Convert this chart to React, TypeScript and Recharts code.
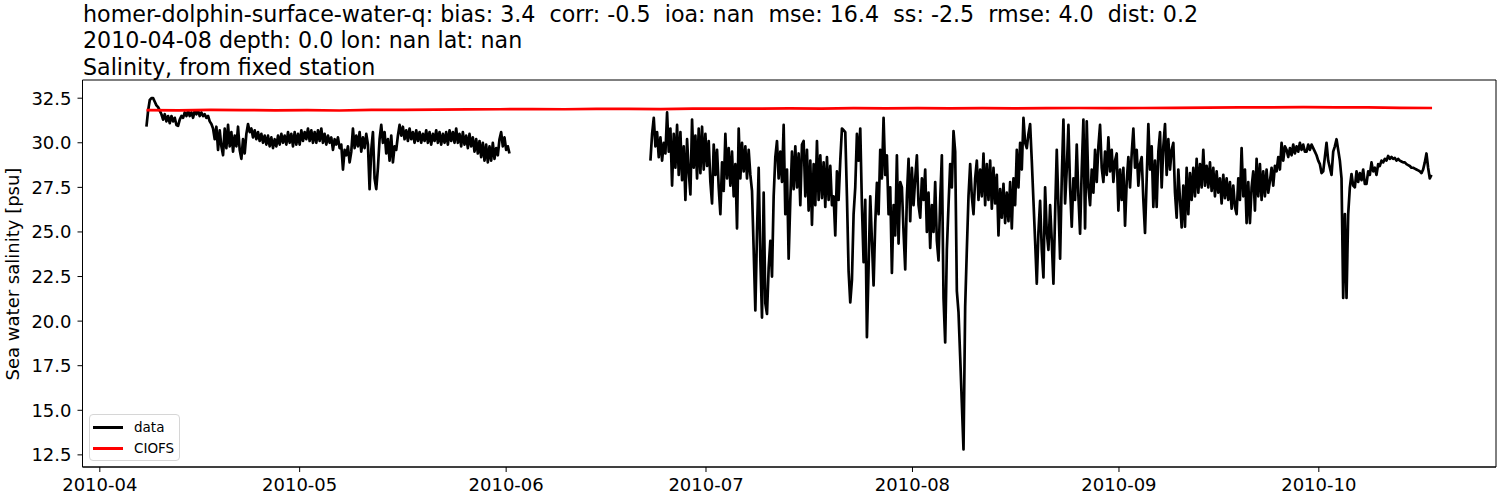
import React from 'react';
import { LineChart, Line, XAxis, YAxis, ReferenceArea, Legend } from 'recharts';

// days are counted from 2010-04-01
const monthTicks = [0, 30, 61, 91, 122, 153, 183];
const monthLabels = ['2010-04', '2010-05', '2010-06', '2010-07', '2010-08', '2010-09', '2010-10'];
const salinityTicks = [12.5, 15, 17.5, 20, 22.5, 25, 27.5, 30, 32.5];
const legendOrder = ['data', 'CIOFS'];

const titleLines = [
  'homer-dolphin-surface-water-q: bias: 3.4  corr: -0.5  ioa: nan  mse: 16.4  ss: -2.5  rmse: 4.0  dist: 0.2',
  '2010-04-08 depth: 0.0 lon: nan lat: nan',
  'Salinity, from fixed station',
];

// observed data, first deployment (start day, step in days, values)
const dataPart1Start = 7.0;
const dataPart1Step = 0.25;
const dataPart1 = [
  30.9, 31.8, 32.4, 32.5, 32.5, 32.3, 32.1, 32.0,
  31.8, 31.6, 31.3, 31.6, 31.2, 31.5, 31.1, 31.5,
  31.2, 31.4, 31.0, 30.95, 31.3, 31.5, 31.4, 31.7,
  31.5, 31.8, 31.5, 31.7, 31.4, 31.8, 31.6, 31.8,
  31.5, 31.7, 31.5, 31.6, 31.4, 31.5, 31.2, 31.05,
  30.8, 30.2, 30.9, 29.6, 30.7, 29.8, 29.3, 30.8,
  29.7, 31.0, 29.8, 30.6, 29.5, 30.4, 29.8, 30.9,
  29.6, 29.1, 30.2, 29.4, 30.5, 31.05, 30.6, 30.8,
  30.3, 30.7, 30.2, 30.6, 30.1, 30.5, 30.0, 30.4,
  29.9, 30.4, 29.8, 30.3, 29.7, 30.2, 29.8, 30.4,
  29.9, 30.5, 30.0, 30.4, 29.9, 30.6, 30.0, 30.5,
  29.8, 30.6, 29.9, 30.5, 29.9, 30.7, 30.1, 30.6,
  30.2, 30.8, 30.1, 30.7, 30.0, 30.6, 30.0, 30.7,
  30.1, 30.8, 30.0, 30.5, 29.9, 30.4, 30.0, 30.3,
  29.6, 30.2, 29.9, 30.3, 29.7, 29.9, 28.5, 29.6,
  29.3, 29.8, 28.9, 29.5, 30.8, 29.7, 30.4, 29.8,
  30.6, 29.5, 30.3, 29.7, 30.5, 29.9, 27.4, 29.6,
  30.6, 28.0, 27.4, 28.6, 30.2, 31.0, 30.0, 30.6,
  29.4, 30.2, 29.0, 30.4, 28.9, 29.8, 29.6, 30.4,
  31.0, 30.4, 30.9, 30.2, 30.7, 30.1, 30.8, 30.2,
  30.6, 30.0, 30.7, 30.1, 30.6, 30.0, 30.5, 30.1,
  30.7, 30.0, 30.6, 29.9, 30.5, 30.1, 30.7, 30.0,
  30.6, 29.9, 30.5, 30.0, 30.6, 29.9, 30.7, 30.1,
  30.6, 30.0, 30.8, 30.0, 30.5, 29.8, 30.6, 29.9,
  30.4, 29.7, 30.5, 29.8, 30.3, 29.5, 30.2, 29.4,
  30.1, 29.2, 30.0, 29.0, 29.9, 28.9, 29.8, 29.0,
  30.0, 29.1, 29.7, 29.3, 30.2, 30.6, 29.8, 30.3,
  29.6, 29.8, 29.4,
];

// observed data, second deployment
const dataPart2Start = 82.66;
const dataPart2Step = 0.25;
const dataPart2 = [
  29.0, 30.5, 31.4, 29.8, 30.6, 29.2, 30.3, 29.0,
  30.0, 29.4, 31.7, 29.5, 30.8, 27.6, 30.5, 28.6,
  31.0, 28.2, 30.6, 27.9, 29.8, 26.8, 30.2, 28.4,
  27.1, 31.3, 28.6, 30.4, 28.0, 30.8, 28.3, 30.9,
  28.5, 30.5, 28.7, 30.1, 27.8, 26.6, 29.9, 28.2,
  29.6, 27.5, 26.0, 28.9, 27.3, 30.5, 28.0, 29.7,
  27.6, 29.5, 27.0, 28.8, 25.2, 30.8, 28.0, 30.0,
  28.4, 29.8, 28.0, 29.6, 28.2, 27.3, 24.0, 20.6,
  25.0, 28.6, 23.5, 20.2, 27.2, 21.0, 20.4, 23.0,
  24.5, 22.5, 27.0, 29.2, 30.1, 28.0, 29.5, 27.8,
  31.0, 26.0, 28.5, 23.5, 26.8, 29.5, 27.4, 29.8,
  27.5, 29.4, 26.5, 29.9, 30.1, 27.0, 29.6, 26.2,
  29.0, 25.4, 28.8, 26.5, 30.1, 26.8, 29.3, 26.9,
  28.9, 26.4, 29.2, 26.8, 28.7, 26.5, 27.0, 24.8,
  28.4, 26.8, 29.0, 30.8, 30.7, 30.6, 27.0, 22.8,
  21.05, 22.3, 26.0, 27.5, 30.5, 29.0, 30.8, 26.5,
  23.3, 26.8, 19.1, 23.0, 27.0, 24.5, 22.0, 25.5,
  27.75, 26.0, 29.6, 28.0, 31.4, 28.2, 29.3, 26.0,
  27.5, 22.7, 26.5, 24.8, 29.3, 24.35, 27.8, 27.5,
  25.0, 22.9, 27.0, 29.1, 25.6, 28.6, 26.5, 28.0,
  29.3, 26.5, 25.8, 28.0, 26.8, 28.5, 25.0, 27.2,
  24.1, 26.5, 25.0, 27.8, 24.5, 23.4, 26.8, 29.3,
  21.3, 18.8, 24.0, 26.5, 28.8, 27.5, 30.66, 29.5,
  21.7, 20.5, 18.0, 15.4, 12.8, 20.8, 24.0, 27.0,
  28.8, 27.0, 26.0, 28.0, 29.0, 26.8, 28.5, 27.0,
  29.4, 26.5, 28.8, 26.8, 29.0, 26.3, 28.6, 26.6,
  28.2, 24.8, 27.4, 25.8, 27.7, 25.5, 27.2, 25.6,
  27.8, 25.2, 28.0, 26.5, 29.6, 27.5, 30.0, 28.5,
  31.4, 30.0, 29.7, 30.5, 31.05, 29.0, 26.75, 24.5,
  22.1, 25.0, 26.75, 24.0, 22.45, 27.5, 25.0, 24.0,
  26.5, 24.5, 22.1, 26.0, 29.6, 26.5, 23.5, 28.0,
  31.3, 26.6, 28.5, 31.0, 27.5, 25.3, 28.0, 26.8,
  29.9, 27.0, 24.9, 28.5, 31.3, 25.2, 31.2, 27.5,
  26.5, 28.5, 27.2, 29.6, 27.8, 29.8, 31.0, 28.6,
  27.8, 29.5, 28.2, 30.3, 28.4, 29.6, 27.8, 29.0,
  29.4, 26.2, 28.5, 26.8, 28.6, 25.35, 27.8, 29.2,
  27.5, 29.4, 30.8, 28.6, 29.6, 27.6, 28.8, 29.2,
  26.8, 24.95, 28.0, 31.05, 28.5, 29.8, 26.4, 29.0,
  26.4, 29.5, 30.6, 27.5, 29.8, 31.05, 28.2, 30.2,
  28.5, 29.6, 30.0, 27.2, 25.8, 28.5, 26.8, 25.25,
  27.6, 25.3, 28.6, 26.0, 28.3, 26.8, 28.6, 27.0,
  29.1, 27.2, 28.8, 27.5, 29.6, 27.6, 28.7, 27.5,
  28.9, 27.3, 28.6, 27.0, 28.4, 27.2, 28.0, 26.6,
  28.2, 26.9, 28.0, 26.8, 27.8, 26.3, 27.6, 26.4,
  26.0, 28.0, 26.8, 29.7, 27.0, 28.5, 25.5, 27.8,
  25.5, 27.5, 28.4, 26.2, 29.1, 27.0, 28.8, 26.8,
  28.4, 27.0, 28.5, 27.2, 27.85, 28.6, 27.6, 28.7,
  28.4, 29.2, 28.5, 30.0, 29.0, 29.8, 29.6, 29.2,
  29.7, 29.3, 29.9, 29.4, 29.8, 29.5, 30.0, 29.6,
  29.9, 29.5, 29.5, 29.9, 29.6, 29.9, 29.7, 29.5,
  29.3, 29.0, 28.8, 28.3, 28.4, 29.2, 30.0, 29.0,
  28.6, 28.2, 29.5, 29.8, 30.2, 29.6, 29.0, 28.0,
  21.3, 26.0, 21.3, 26.0, 27.5, 28.25, 27.6, 27.5,
  28.4, 27.8, 28.3, 27.9, 28.5, 27.7, 27.7, 28.4,
  28.2, 28.9, 28.4, 28.6, 28.2, 28.8, 28.7, 29.0,
  28.9, 29.1, 29.0, 29.26, 29.1, 29.2, 29.1, 29.15,
  29.0, 29.1, 29.0, 28.95, 28.9, 28.9, 28.8, 28.75,
  28.7, 28.6, 28.6, 28.55, 28.5, 28.45, 28.4, 28.3,
  28.5, 28.9, 29.4, 28.6, 28.0, 28.2,
];
const gapDay = 72;

// CIOFS model
const ciofsStart = 7.0;
const ciofsStep = 4.825;
const ciofs = [
  31.83, 31.82, 31.84, 31.83, 31.82, 31.83, 31.81, 31.84, 31.85, 31.86,
  31.87, 31.88, 31.89, 31.88, 31.90, 31.90, 31.89, 31.91, 31.92, 31.91,
  31.93, 31.92, 31.94, 31.93, 31.94, 31.93, 31.94, 31.93, 31.94, 31.95,
  31.94, 31.95, 31.96, 31.97, 31.98, 31.99, 32.00, 31.99, 31.98, 31.96,
  31.95,
];

const FONT = '"DejaVu Sans", Verdana, sans-serif';

const blackRows = [
  ...dataPart1.map((v, i) => ({ day: dataPart1Start + i * dataPart1Step, v })),
  { day: gapDay, v: null as number | null },
  ...dataPart2.map((v, i) => ({ day: dataPart2Start + i * dataPart2Step, v })),
];
const redRows = ciofs.map((v, i) => ({ day: ciofsStart + i * ciofsStep, v }));

const X_DOMAIN: [number, number] = [-2.6, 209.6];
const Y_DOMAIN: [number, number] = [11.82, 33.52];

const XTick = (props: any) => {
  const { x, y, payload } = props;
  const idx = monthTicks.indexOf(payload.value);
  return (
    <text x={x} y={y + 17} textAnchor="middle" fontFamily={FONT} fontSize={18} fill="#000">
      {idx >= 0 ? monthLabels[idx] : ''}
    </text>
  );
};

const YTick = (props: any) => {
  const { x, y, payload } = props;
  return (
    <text x={x} y={y + 6.5} textAnchor="end" fontFamily={FONT} fontSize={18} fill="#000">
      {Number(payload.value).toFixed(1)}
    </text>
  );
};

const LegendContent = (props: any) => {
  const items = [...(props.payload || [])].sort(
    (a: any, b: any) => legendOrder.indexOf(a.value) - legendOrder.indexOf(b.value)
  );
  return (
    <div
      style={{
        width: 91,
        height: 47,
        border: '1px solid #d6d6d6',
        borderRadius: 4,
        background: 'rgba(255,255,255,0.8)',
        boxSizing: 'border-box',
        fontFamily: FONT,
        fontSize: 13.5,
        position: 'relative',
      }}
    >
      {items.map((it: any, i: number) => (
        <div key={i} style={{ position: 'absolute', left: 0, top: 2 + i * 21.3, height: 20, width: 91 }}>
          <div style={{ position: 'absolute', left: 3, top: 9, width: 30, height: 2.8, background: it.color }} />
          <div style={{ position: 'absolute', left: 44, top: 1, lineHeight: '18px', color: '#000' }}>{it.value}</div>
        </div>
      ))}
    </div>
  );
};

export default function App() {
  return (
    <div style={{ position: 'absolute', left: 0, top: 0, width: 1500, height: 500, background: '#fff' }}>
      {titleLines.map((t, i) => (
        <div
          key={i}
          style={{
            position: 'absolute',
            left: 83,
            top: 1 + i * 26.3,
            fontFamily: FONT,
            fontSize: 22.2,
            lineHeight: '26px',
            whiteSpace: 'pre',
            color: '#000',
          }}
        >
          {t}
        </div>
      ))}
      <div
        style={{
          position: 'absolute',
          left: 12,
          top: 273.5,
          transform: 'translate(-50%, -50%) rotate(-90deg)',
          fontFamily: FONT,
          fontSize: 18,
          whiteSpace: 'pre',
          color: '#000',
        }}
      >
        Sea water salinity [psu]
      </div>
      <div style={{ position: 'absolute', left: 0, top: 0 }}>
        <LineChart width={1500} height={500} margin={{ top: 80, right: 4, left: 0, bottom: 0 }}>
          <XAxis
            type="number"
            dataKey="day"
            domain={X_DOMAIN}
            allowDataOverflow
            ticks={monthTicks}
            tick={<XTick />}
            tickSize={5}
            tickMargin={2}
            height={33}
            stroke="#000"
            tickLine={{ stroke: '#000' }}
          />
          <YAxis
            type="number"
            domain={Y_DOMAIN}
            allowDataOverflow
            ticks={salinityTicks}
            tick={<YTick />}
            tickSize={5}
            tickMargin={6}
            width={82.5}
            stroke="#000"
            tickLine={{ stroke: '#000' }}
          />
          <ReferenceArea
            x1={X_DOMAIN[0]}
            x2={X_DOMAIN[1]}
            y1={Y_DOMAIN[0]}
            y2={Y_DOMAIN[1]}
            fill="none"
            fillOpacity={0}
            stroke="#000"
            strokeWidth={1}
          />
          <Line
            data={blackRows}
            dataKey="v"
            name="data"
            stroke="#000"
            strokeWidth={2.7}
            dot={false}
            activeDot={false}
            strokeLinejoin="round"
            isAnimationActive={false}
          />
          <Line
            data={redRows}
            dataKey="v"
            name="CIOFS"
            stroke="#ff0000"
            strokeWidth={2.7}
            dot={false}
            activeDot={false}
            strokeLinejoin="round"
            isAnimationActive={false}
          />
          <Legend
            layout="vertical"
            align="center"
            verticalAlign="middle"
            content={<LegendContent />}
            wrapperStyle={{ position: 'absolute', left: 89, top: 414, width: 91, height: 47 }}
          />
        </LineChart>
      </div>
    </div>
  );
}
